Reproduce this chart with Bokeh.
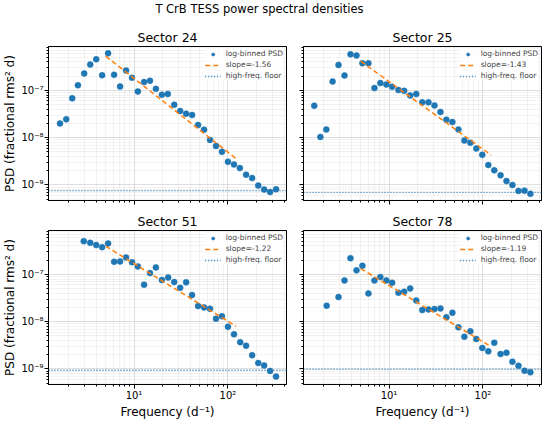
from bokeh.plotting import figure
from bokeh.layouts import column, row
from bokeh.models import FixedTicker, CustomJSTickFormatter, Range1d, CustomLabelingPolicy
from bokeh.embed import file_html
from bokeh.resources import INLINE
from bokeh.core.properties import value

SUPTITLE = "T CrB TESS power spectral densities"
SECTORS = ["Sector 24", "Sector 25", "Sector 51", "Sector 78"]

freq_s24 = [1.63, 1.90, 2.20, 2.53, 2.95, 3.42, 3.96, 4.58, 5.30, 6.14, 7.11, 8.23, 9.52,
            11.0, 12.8, 14.8, 17.1, 19.8, 22.9, 26.8, 31.0, 35.9, 41.5, 48.1, 55.7, 64.4,
            74.6, 86.4, 100, 116, 134, 156, 181, 210, 243, 281, 325]
psd_s24 = [2.0e-8, 2.45e-8, 6.8e-8, 1.29e-7, 2.28e-7, 3.52e-7, 4.57e-7, 2.1e-7, 6.1e-7,
           2.14e-7, 1.21e-7, 2.64e-7, 1.85e-7, 9.5e-8, 1.5e-7, 1.6e-7, 1.08e-7, 8.1e-8,
           8.4e-8, 4.99e-8, 3.67e-8, 3.23e-8, 3.03e-8, 1.86e-8, 1.48e-8, 9.0e-9, 6.7e-9,
           5.03e-9, 3.1e-9, 2.72e-9, 2.28e-9, 1.65e-9, 1.40e-9, 9.7e-10, 8.0e-10, 7.1e-10, 8.1e-10]

freq_s25 = [1.60, 1.86, 2.15, 2.51, 2.90, 3.36, 3.89, 4.51, 5.21, 6.04, 7.00, 8.09, 9.37,
            10.8, 12.6, 14.5, 16.8, 19.5, 22.6, 26.3, 30.5, 35.3, 40.8, 47.3, 54.8, 63.4,
            73.4, 85.0, 98.4, 114, 132, 154, 178, 206, 239, 277, 320]
psd_s25 = [4.76e-8, 1.04e-8, 1.49e-8, 1.55e-7, 3.47e-7, 2.07e-7, 5.8e-7, 5.5e-7, 3.76e-7,
           3.76e-7, 1.12e-7, 1.43e-7, 1.34e-7, 1.19e-7, 1.02e-7, 9.8e-8, 7.85e-8, 8.4e-8,
           5.6e-8, 5.6e-8, 4.83e-8, 3.50e-8, 2.41e-8, 2.15e-8, 1.49e-8, 8.7e-9, 7.8e-9,
           5.9e-9, 4.35e-9, 2.64e-9, 2.04e-9, 1.60e-9, 1.21e-9, 1.0e-9, 7.5e-10, 7.6e-10, 6.5e-10]

freq_s51 = [2.92, 3.42, 3.96, 4.58, 5.30, 6.14, 7.11, 8.23, 9.52, 11.0, 12.8, 14.8, 17.1,
            19.8, 23.1, 26.8, 31.0, 35.9, 41.5, 48.1, 55.7, 64.4, 74.6, 86.4, 100, 116,
            135, 156, 181, 210, 243, 281, 325]
psd_s51 = [5.06e-7, 4.67e-7, 4.17e-7, 3.78e-7, 4.52e-7, 1.85e-7, 1.88e-7, 2.29e-7, 1.82e-7,
           1.48e-7, 6.05e-8, 1.07e-7, 1.41e-7, 7.6e-8, 8.6e-8, 6.9e-8, 5.2e-8, 6.8e-8,
           3.66e-8, 2.14e-8, 2.01e-8, 1.88e-8, 1.16e-8, 1.30e-8, 7.8e-9, 5.4e-9, 3.7e-9,
           3.1e-9, 1.95e-9, 1.34e-9, 1.19e-9, 9.1e-10, 6.9e-10]

freq_s78 = [2.17, 2.90, 3.36, 3.89, 4.51, 5.21, 6.04, 7.00, 8.09, 9.37, 10.8, 12.6, 14.5,
            16.8, 19.5, 22.6, 26.3, 30.5, 35.3, 40.8, 47.3, 54.8, 63.4, 73.4, 85.0, 98.4,
            114, 132, 154, 178, 206, 239, 277, 320]
psd_s78 = [2.18e-8, 3.32e-8, 7.47e-8, 2.21e-7, 1.22e-7, 1.52e-7, 3.97e-8, 7.47e-8, 8.8e-8,
           7.47e-8, 6.67e-8, 4.1e-8, 4.3e-8, 5.06e-8, 2.82e-8, 1.76e-8, 1.82e-8, 1.85e-8,
           1.91e-8, 1.24e-8, 1.55e-8, 7.6e-9, 4.8e-9, 6.25e-9, 4.3e-9, 2.78e-9, 2.36e-9,
           3.6e-9, 2.07e-9, 2.21e-9, 1.43e-9, 1.17e-9, 9.2e-10, 8.5e-10]

FREQS = [freq_s24, freq_s25, freq_s51, freq_s78]
PSDS = [psd_s24, psd_s25, psd_s51, psd_s78]
slopes = [-1.56, -1.43, -1.22, -1.19]
fit_psd_at_5 = [5.3e-7, 4.15e-7, 3.95e-7, 1.33e-7]
fit_freq_band = [5.0, 122.0]
floors = [7.6e-10, 7.0e-10, 9.4e-10, 9.8e-10]

XLIM = [1.23, 420.0]
YLIM = [4.7e-10, 8.5e-7]
x_major = [10, 100]
x_minor = [2, 3, 4, 5, 6, 7, 8, 9, 20, 30, 40, 50, 60, 70, 80, 90, 200, 300, 400]
y_major = [1e-9, 1e-8, 1e-7]
y_minor = [5e-10, 6e-10, 7e-10, 8e-10, 9e-10,
           2e-9, 3e-9, 4e-9, 5e-9, 6e-9, 7e-9, 8e-9, 9e-9,
           2e-8, 3e-8, 4e-8, 5e-8, 6e-8, 7e-8, 8e-8, 9e-8,
           2e-7, 3e-7, 4e-7, 5e-7, 6e-7, 7e-7, 8e-7]

FONT = "DejaVu Sans"
BLUE = "#1f77b4"
ORANGE = "#ff7f0e"

fmt_code = """
const e = Math.round(Math.log10(tick));
const m = {"-": "\\u207b", "0": "\\u2070", "1": "\\u00b9", "2": "\\u00b2", "3": "\\u00b3",
           "4": "\\u2074", "5": "\\u2075", "6": "\\u2076", "7": "\\u2077", "8": "\\u2078", "9": "\\u2079"};
return "10" + String(e).split("").map(c => m[c]).join("");
"""
no_labels_code = """
for (const i of indices) {
    if (i < 0) yield i
}
"""

FW, FH = 238, 154


def panel(i, top, left):
    p = figure(frame_width=FW, frame_height=FH, x_axis_type="log", y_axis_type="log",
               x_range=Range1d(*XLIM), y_range=Range1d(*YLIM),
               output_backend="svg", toolbar_location=None, title=SECTORS[i],
               min_border_left=42 if left else 7, min_border_right=7 if left else 1,
               min_border_top=28 if top else 21, min_border_bottom=7 if top else 32)
    p.title.text_font = FONT
    p.title.text_font_size = "12.5px"
    p.title.text_font_style = "normal"
    p.title.text_color = "black"
    p.title.align = "center"
    p.title.standoff = 4
    p.title.offset = 0
    p.outline_line_color = "black"
    p.outline_line_width = 1
    p.background_fill_color = "white"
    p.border_fill_color = "white"

    for ax, maj, mnr in ((p.xaxis, x_major, x_minor), (p.yaxis, y_major, y_minor)):
        ax.ticker = FixedTicker(ticks=maj, minor_ticks=mnr)
        ax.formatter = CustomJSTickFormatter(code=fmt_code)
        ax.major_tick_in = 0
        ax.major_tick_out = 4
        ax.minor_tick_in = 0
        ax.minor_tick_out = 2
        ax.major_tick_line_color = "black"
        ax.minor_tick_line_color = "black"
        ax.axis_line_color = "black"
        ax.major_label_text_font = FONT
        ax.major_label_text_font_size = "10px"
        ax.major_label_text_color = "black"
        ax.major_label_standoff = 1
        ax.axis_label_text_font = FONT
        ax.axis_label_text_font_size = "12px"
        ax.axis_label_text_font_style = "normal"
        ax.axis_label_standoff = 1
        ax.axis_label_text_color = "black"

    if top:
        p.xaxis.major_label_policy = CustomLabelingPolicy(code=no_labels_code)
        p.xaxis.major_label_text_font_size = "1px"
    else:
        p.xaxis.axis_label = "Frequency (d\u207b\u00b9)"
    if left:
        p.yaxis.axis_label = "PSD (fractional rms\u00b2 d)"
    else:
        p.yaxis.major_label_policy = CustomLabelingPolicy(code=no_labels_code)
        p.yaxis.major_label_text_font_size = "1px"

    for g in (p.xgrid, p.ygrid):
        g.grid_line_color = "#b0b0b0"
        g.grid_line_alpha = 0.5
        g.grid_line_width = 0.8
        g.minor_grid_line_color = "#b0b0b0"
        g.minor_grid_line_alpha = 0.25
        g.minor_grid_line_width = 0.6

    p.scatter(FREQS[i], PSDS[i], size=6, fill_color=BLUE, line_color=BLUE, line_width=0.5,
              legend_label="log-binned PSD")
    fx = fit_freq_band
    fy = [fit_psd_at_5[i] * (f / 5.0) ** slopes[i] for f in fx]
    p.line(fx, fy, line_color=ORANGE, line_width=1.5, line_dash="5 3",
           legend_label=f"slope={slopes[i]:.2f}")
    p.line(XLIM, [floors[i], floors[i]], line_color=BLUE, line_width=1.3,
           line_dash="1 2", legend_label="high-freq. floor")

    lg = p.legend[0]
    lg.location = "top_right"
    lg.label_text_font = FONT
    lg.label_text_font_size = "7.5px"
    lg.label_height = 8
    lg.glyph_height = 8
    lg.glyph_width = 16
    lg.spacing = 2
    lg.padding = 2
    lg.margin = 3
    lg.label_standoff = 5
    lg.border_line_color = None
    lg.background_fill_alpha = 0.8
    return p


tl = panel(0, True, True)
tr = panel(1, True, False)
bl = panel(2, False, True)
br = panel(3, False, False)

tf = figure(width=533, height=18, x_range=Range1d(0, 533), y_range=Range1d(0, 18),
            output_backend="svg", toolbar_location=None,
            x_axis_location=None, y_axis_location=None, min_border=0)
tf.grid.visible = False
tf.outline_line_color = None
tf.text(x=[259], y=[10], text=[SUPTITLE], text_align="center", text_baseline="middle",
        text_font=value(FONT), text_font_size="11.5px", text_color="black")

layout = column(tf, row(tl, tr), row(bl, br))
open("out.html", "w", encoding="utf-8").write(file_html(layout, INLINE))
